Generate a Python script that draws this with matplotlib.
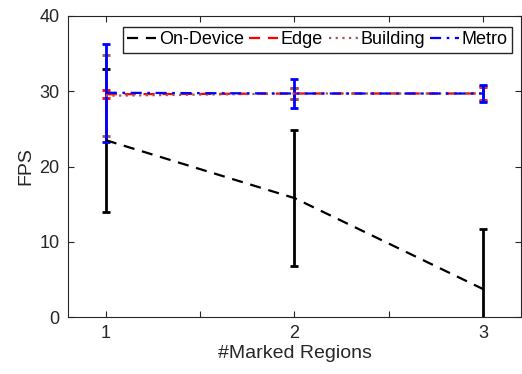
import matplotlib
matplotlib.use('Agg')
import matplotlib.pyplot as plt
from matplotlib.lines import Line2D

plt.rcParams['font.family'] = ['Liberation Sans', 'DejaVu Sans']

regions = [1, 2, 3]
ondevice_mean = [23.5, 15.8, 3.7]
ondevice_err = [9.5, 9.0, 8.0]
edge_mean = [29.6, 29.7, 29.7]
edge_err = [0.5, 0.7, 0.8]
building_mean = [29.4, 29.7, 29.7]
building_err = [5.4, 0.7, 1.0]
metro_mean = [29.8, 29.7, 29.7]
metro_err = [6.5, 1.9, 1.15]

fig = plt.figure(figsize=(5.22, 3.74), dpi=100)
ax = fig.add_axes([68 / 522, 1 - 317 / 374, (521 - 68) / 522, (317 - 16) / 374])

series = [
    (ondevice_mean, ondevice_err, 'k', (0, (5, 3.5)), 'On-Device'),
    (edge_mean, edge_err, 'red', (0, (5, 3.5)), 'Edge'),
    (building_mean, building_err, '#9e5a5a', (0, (1, 2)), 'Building'),
    (metro_mean, metro_err, 'blue', (0, (5, 2.5, 1.2, 2.5)), 'Metro'),
]
handles = []
for m, e, c, ls, lab in series:
    ax.errorbar(regions, m, yerr=e, color=c, linestyle=ls, linewidth=1.6,
                elinewidth=2, capsize=2.8, capthick=2)
    handles.append(Line2D([], [], color=c, linestyle=ls, linewidth=1.6, label=lab))

ax.set_xlim(0.8, 3.2)
ax.set_ylim(0, 40)
ax.set_xticks([1, 1.5, 2, 2.5, 3])
ax.set_xticklabels(['1', '', '2', '', '3'])
ax.set_yticks([0, 10, 20, 30, 40])
ax.tick_params(direction='in', top=True, right=True, labelsize=13, colors='#262626', length=4, pad=6)
for s in ax.spines.values():
    s.set_color('#262626')
    s.set_linewidth(0.8)
ax.set_xlabel('#Marked Regions', fontsize=14, color='#262626', labelpad=2)
ax.set_ylabel('FPS', fontsize=14, color='#262626', labelpad=4)

ax.legend(handles=handles, ncol=4, loc='upper right', bbox_to_anchor=(0.985, 0.97), fontsize=13,
          frameon=True, fancybox=False, edgecolor='#262626', framealpha=1,
          handlelength=1.6, handletextpad=0.15, columnspacing=0.3, borderpad=0.25, borderaxespad=0.1)

plt.savefig('out.png')
